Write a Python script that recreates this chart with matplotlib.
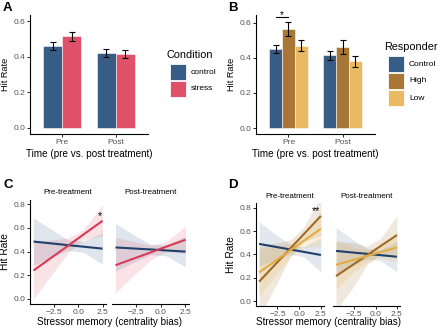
import numpy as np
import matplotlib
matplotlib.use("Agg")
import matplotlib.pyplot as plt
from matplotlib.patches import Rectangle

plt.rcParams['font.family'] = ['Liberation Sans', 'DejaVu Sans']

# ---- data -------------------------------------------------------------
times = ["Pre", "Post"]

# panel A: hit rate by condition
cond_names = ["control", "stress"]
cond_means = [[0.46, 0.42], [0.515, 0.415]]
cond_errs = [[0.025, 0.022], [0.025, 0.022]]

# panel B: hit rate by responder group
resp_names = ["Control", "High", "Low"]
resp_means = [[0.45, 0.415], [0.565, 0.46], [0.47, 0.38]]
resp_errs = [[0.025, 0.025], [0.04, 0.04], [0.03, 0.03]]

# panels C/D: regression fits read at a few x positions
bias_x = [-4.6, -2.5, -1.0, 0.5, 2.5]
facets = ["Pre-treatment", "Post-treatment"]

c_pre_control = {"fit": [0.485, 0.467, 0.454, 0.442, 0.425],
                 "lo": [0.285, 0.361, 0.410, 0.395, 0.293],
                 "hi": [0.685, 0.573, 0.498, 0.489, 0.557]}
c_pre_stress = {"fit": [0.24, 0.364, 0.452, 0.542, 0.66],
                "lo": [0.0, 0.23, 0.39, 0.50, 0.535],
                "hi": [0.48, 0.50, 0.515, 0.585, 0.795]}
c_post_control = {"fit": [0.435, 0.425, 0.418, 0.41, 0.40],
                  "lo": [0.235, 0.32, 0.375, 0.365, 0.27],
                  "hi": [0.635, 0.53, 0.46, 0.455, 0.53]}
c_post_stress = {"fit": [0.285, 0.349, 0.394, 0.44, 0.50],
                 "lo": [0.05, 0.22, 0.33, 0.40, 0.385],
                 "hi": [0.52, 0.48, 0.455, 0.48, 0.615]}

d_pre_control = {"fit": [0.49, 0.462, 0.442, 0.422, 0.395],
                 "lo": [0.30, 0.36, 0.40, 0.38, 0.25],
                 "hi": [0.68, 0.56, 0.485, 0.465, 0.54]}
d_pre_high = {"fit": [0.166, 0.333, 0.452, 0.571, 0.73],
              "lo": [-0.14, 0.16, 0.38, 0.51, 0.56],
              "hi": [0.47, 0.50, 0.525, 0.63, 0.90]}
d_pre_low = {"fit": [0.245, 0.356, 0.435, 0.514, 0.62],
             "lo": [0.045, 0.24, 0.38, 0.46, 0.47],
             "hi": [0.445, 0.47, 0.49, 0.57, 0.77]}
d_post_control = {"fit": [0.43, 0.415, 0.405, 0.394, 0.38],
                  "lo": [0.23, 0.31, 0.36, 0.35, 0.25],
                  "hi": [0.63, 0.52, 0.45, 0.44, 0.51]}
d_post_high = {"fit": [0.214, 0.318, 0.392, 0.467, 0.566],
               "lo": [-0.08, 0.13, 0.31, 0.40, 0.40],
               "hi": [0.51, 0.50, 0.47, 0.53, 0.73]}
d_post_low = {"fit": [0.31, 0.354, 0.386, 0.418, 0.46],
              "lo": [0.10, 0.25, 0.33, 0.37, 0.33],
              "hi": [0.52, 0.46, 0.44, 0.465, 0.59]}

# ---- style ------------------------------------------------------------
BLUE = "#2c5480"
RED = "#de4860"
HIGH = "#a3702a"
LOW = "#e8b758"
LINE_BLUE = "#21406c"
LINE_RED = "#d93a55"
LINE_HIGH = "#a06a22"
LINE_LOW = "#e2ab45"
TICK_COL = "#555555"

W, H = 440.0, 331.0


def px_axes(fig, left, top, right, bottom):
    # make axes from pixel box (origin at top-left)
    return fig.add_axes([left / W, 1 - bottom / H, (right - left) / W, (bottom - top) / H])


def classic(ax, yaxis=True):
    for s in ["top", "right"]:
        ax.spines[s].set_visible(False)
    ax.spines["bottom"].set_linewidth(0.8)
    ax.spines["left"].set_linewidth(0.8)
    ax.tick_params(labelsize=6.0, colors="black", labelcolor=TICK_COL,
                   length=2, width=0.6, pad=1.5)
    if not yaxis:
        ax.spines["left"].set_visible(False)
        ax.tick_params(axis="y", left=False, labelleft=False)


def legend_block(fig, x, y, title, names, colors):
    fig.text(x / W, 1 - y / H, title, fontsize=7.8, va="center", ha="left")
    ky = y + 8
    for name, col in zip(names, colors):
        fig.patches.append(Rectangle((x / W + 0.009, 1 - (ky + 17) / H), 16.5 / W, 16 / H,
                                     transform=fig.transFigure, facecolor=col,
                                     edgecolor="white", linewidth=0.6, alpha=0.95))
        fig.text((x + 25) / W, 1 - (ky + 9) / H, name, fontsize=6.0, va="center", ha="left")
        ky += 17


fig = plt.figure(figsize=(4.4, 3.31), dpi=100)

# ---- panel A ----------------------------------------------------------
ax = px_axes(fig, 30, 15, 148, 134)
pos = np.arange(1, len(times) + 1)
bw = 0.36
for i, (m, e, col) in enumerate(zip(cond_means, cond_errs, [BLUE, RED])):
    xx = pos + (i - 0.5) * bw
    ax.bar(xx, m, width=bw, color=col, edgecolor="white", linewidth=0.4, alpha=0.95)
    ax.errorbar(xx, m, yerr=e, fmt="none", ecolor="black", elinewidth=0.8,
                capsize=2.4, capthick=0.8)
ax.set_xlim(0.4, 2.6)
ax.set_ylim(-0.034, 0.634)
ax.set_yticks([0.0, 0.2, 0.4, 0.6])
ax.set_xticks(pos)
ax.set_xticklabels(times)
classic(ax)
ax.set_ylabel("Hit Rate", fontsize=6.6, labelpad=2)
ax.set_xlabel("Time (pre vs. post treatment)", fontsize=7.1, labelpad=2)
fig.text(3 / W, 1 - 8 / H, "A", fontsize=9.5, fontweight="bold", va="center")
legend_block(fig, 166, 55, "Condition", cond_names, [BLUE, RED])

# ---- panel B ----------------------------------------------------------
ax = px_axes(fig, 256, 15, 375, 134)
bw = 0.237
for i, (m, e, col) in enumerate(zip(resp_means, resp_errs, [BLUE, HIGH, LOW])):
    xx = pos + (i - 1) * bw
    ax.bar(xx, m, width=bw, color=col, edgecolor="white", linewidth=0.4, alpha=0.95)
    ax.errorbar(xx, m, yerr=e, fmt="none", ecolor="black", elinewidth=0.8,
                capsize=2.0, capthick=0.8)
# significance bracket Control vs High (pre)
ax.plot([pos[0] - bw, pos[0]], [0.632, 0.632], color="black", lw=0.8)
ax.text(pos[0] - bw / 2, 0.642, "*", ha="center", va="center", fontsize=7)
ax.set_xlim(0.4, 2.6)
ax.set_ylim(-0.034, 0.644)
ax.set_yticks([0.0, 0.2, 0.4, 0.6])
ax.set_xticks(pos)
ax.set_xticklabels(times)
classic(ax)
ax.set_ylabel("Hit Rate", fontsize=6.6, labelpad=2)
ax.set_xlabel("Time (pre vs. post treatment)", fontsize=7.1, labelpad=2)
fig.text(228 / W, 1 - 8 / H, "B", fontsize=9.5, fontweight="bold", va="center")
legend_block(fig, 384, 47, "Responder", resp_names, [BLUE, HIGH, LOW])


# ---- panels C / D -----------------------------------------------------
def reg_panel(ax, series, first, strip):
    for s, lc, fc, a in series:
        ax.fill_between(bias_x, s["lo"], s["hi"], color=fc, alpha=a, linewidth=0)
        ax.plot(bias_x, s["fit"], color=lc, lw=1.5, solid_capstyle="butt")
    ax.set_xlim(-4.955, 2.855)
    ax.set_ylim(-0.04, 0.84)
    ax.set_xticks([-2.5, 0.0, 2.5])
    ax.set_yticks([0.0, 0.2, 0.4, 0.6, 0.8])
    classic(ax, yaxis=first)
    ax.set_title(strip, fontsize=5.8, pad=4)


c_sets = [[(c_pre_control, LINE_BLUE, BLUE, 0.15), (c_pre_stress, LINE_RED, RED, 0.15)],
          [(c_post_control, LINE_BLUE, BLUE, 0.15), (c_post_stress, LINE_RED, RED, 0.15)]]
c_boxes = [(30, 106), (112, 189)]
for k in range(2):
    ax = px_axes(fig, c_boxes[k][0], 199.5, c_boxes[k][1], 303.7)
    reg_panel(ax, c_sets[k], k == 0, facets[k])
    if k == 0:
        ax.set_ylabel("Hit Rate", fontsize=7.3, labelpad=2)
        ax.text(2.2, 0.70, "*", ha="center", va="center", fontsize=7.5)
fig.text(109.5 / W, 1 - 322 / H, "Stressor memory (centrality bias)", fontsize=7.1,
         ha="center", va="center")
fig.text(3 / W, 1 - 185 / H, "C", fontsize=9.5, fontweight="bold", va="center")

d_sets = [[(d_pre_control, LINE_BLUE, BLUE, 0.13), (d_pre_high, LINE_HIGH, HIGH, 0.16),
           (d_pre_low, LINE_LOW, LOW, 0.2)],
          [(d_post_control, LINE_BLUE, BLUE, 0.13), (d_post_high, LINE_HIGH, HIGH, 0.16),
           (d_post_low, LINE_LOW, LOW, 0.2)]]
d_boxes = [(256, 324), (333, 400)]
for k in range(2):
    ax = px_axes(fig, d_boxes[k][0], 203.1, d_boxes[k][1], 305.7)
    reg_panel(ax, d_sets[k], k == 0, facets[k])
    if k == 0:
        ax.set_ylabel("Hit Rate", fontsize=7.3, labelpad=2)
        ax.text(1.96, 0.77, "**", ha="center", va="center", fontsize=7.5)
fig.text(328 / W, 1 - 322 / H, "Stressor memory (centrality bias)", fontsize=7.1,
         ha="center", va="center")
fig.text(228 / W, 1 - 185 / H, "D", fontsize=9.5, fontweight="bold", va="center")

fig.savefig("out.png", dpi=100)
